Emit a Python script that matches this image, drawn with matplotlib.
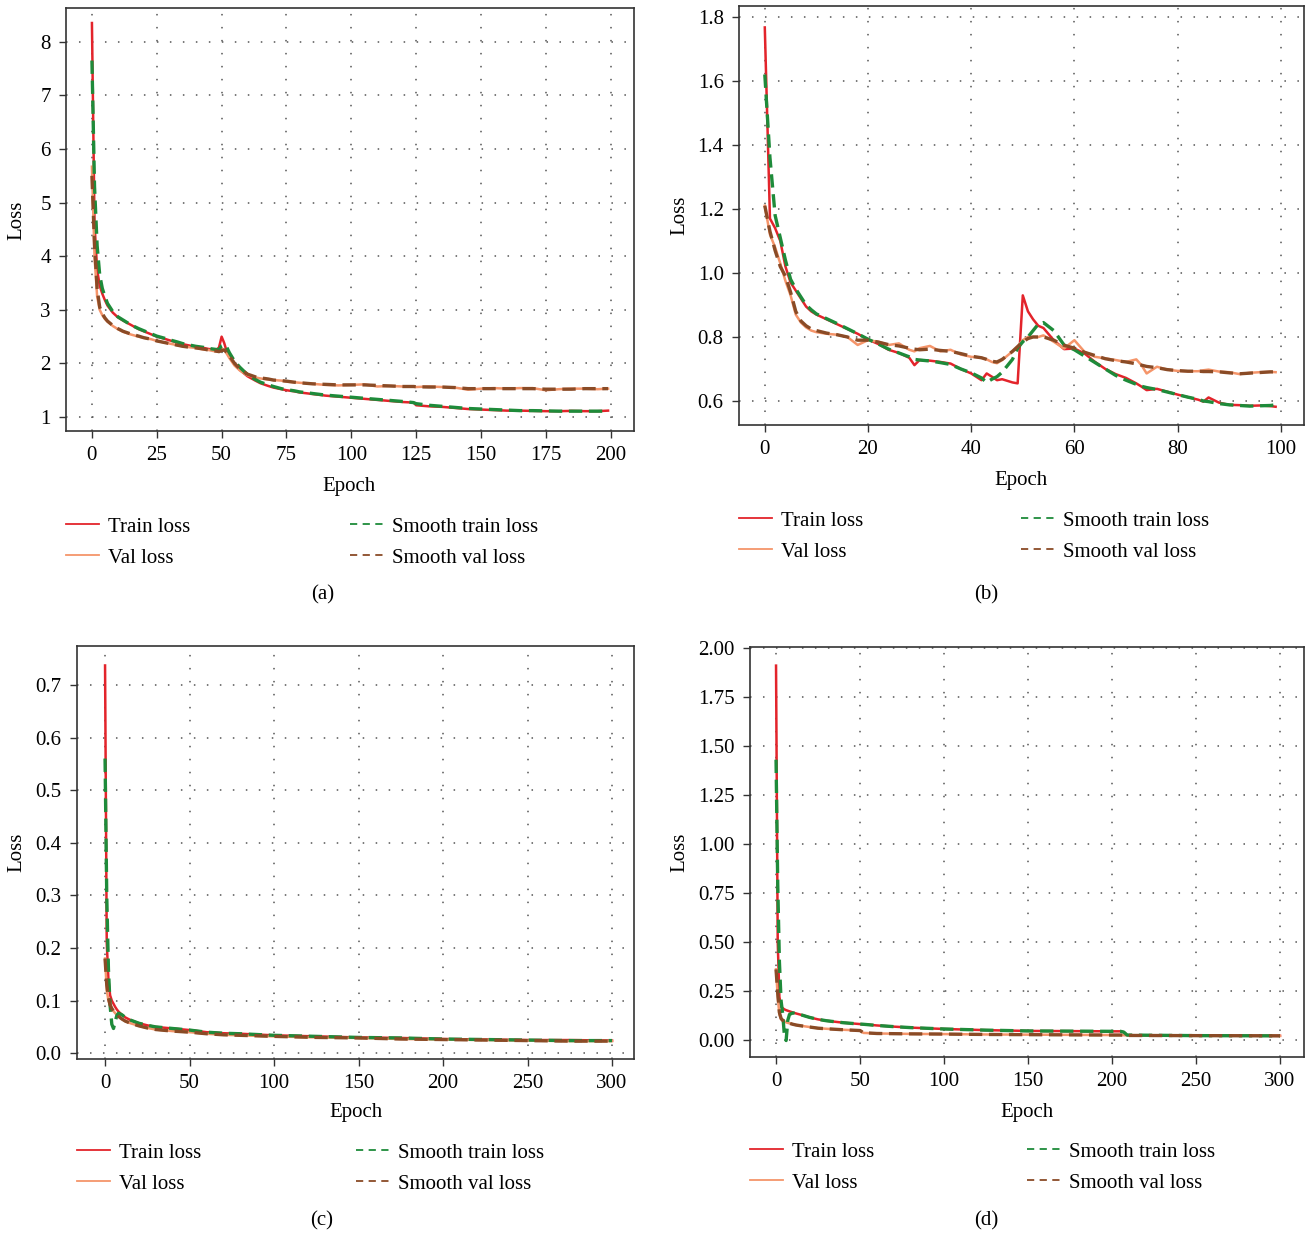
import matplotlib
matplotlib.use('Agg')
import matplotlib.pyplot as plt
from matplotlib.lines import Line2D

plt.rcParams['font.family'] = ['Liberation Serif', 'DejaVu Serif']

W, H = 1308, 1236

# ---- panel (a) ----
ep_a = [0, 1, 2, 3, 4, 5, 6,
        8, 10, 12, 15, 18, 20, 23, 25, 28, 30, 33, 35, 38, 40, 43, 45, 48, 49,
        50, 51, 52, 53, 55, 57, 60, 63, 65, 68, 70, 73, 75, 78, 80,
        85, 90, 95, 100, 105, 110, 115, 120, 124, 125,
        130, 135, 140, 145, 150, 155, 160, 165, 170, 175, 180, 185, 190, 195,
        199]
train_a = [8.35, 4.6, 3.75, 3.45, 3.3, 3.18, 3.08,
           2.95, 2.86, 2.80, 2.72, 2.64, 2.60, 2.54, 2.50, 2.46, 2.43, 2.39, 2.36, 2.33, 2.31, 2.29, 2.27, 2.25, 2.30,
           2.50, 2.38, 2.22, 2.12, 1.98, 1.88, 1.76, 1.68, 1.63, 1.58, 1.55, 1.52, 1.50, 1.48, 1.46,
           1.43, 1.40, 1.38, 1.36, 1.34, 1.32, 1.30, 1.28, 1.27, 1.22,
           1.20, 1.19, 1.17, 1.15, 1.14, 1.13, 1.12, 1.12, 1.115, 1.11, 1.11, 1.115, 1.11, 1.11,
           1.12]
val_a = [5.67, 4.0, 3.25, 3.0, 2.9, 2.83, 2.78,
         2.70, 2.64, 2.59, 2.54, 2.50, 2.48, 2.45, 2.42, 2.39, 2.37, 2.34, 2.32, 2.30, 2.29, 2.26, 2.25, 2.22, 2.22,
         2.28, 2.25, 2.18, 2.10, 1.96, 1.87, 1.78, 1.74, 1.72, 1.70, 1.69, 1.68, 1.66, 1.65, 1.64,
         1.62, 1.60, 1.59, 1.60, 1.61, 1.57, 1.58, 1.57, 1.57, 1.56,
         1.57, 1.56, 1.55, 1.51, 1.53, 1.54, 1.53, 1.54, 1.54, 1.50, 1.52, 1.53, 1.53, 1.52,
         1.53]
strain_a = [7.65, 5.3, 4.2, 3.65, 3.4, 3.25, 3.12,
            2.97, 2.87, 2.81, 2.72, 2.65, 2.61, 2.55, 2.51, 2.47, 2.44, 2.40, 2.37, 2.34, 2.32, 2.30, 2.28, 2.26, 2.26,
            2.33, 2.35, 2.30, 2.20, 2.04, 1.93, 1.79, 1.70, 1.65, 1.60, 1.57, 1.53, 1.51, 1.49, 1.47,
            1.44, 1.41, 1.39, 1.37, 1.35, 1.33, 1.31, 1.29, 1.27, 1.25,
            1.22, 1.20, 1.18, 1.16, 1.15, 1.14, 1.13, 1.12, 1.12, 1.115, 1.11, 1.11, 1.11, 1.11,
            1.11]
sval_a = [5.5, 4.2, 3.4, 3.05, 2.93, 2.85, 2.79,
          2.71, 2.65, 2.60, 2.55, 2.51, 2.48, 2.45, 2.42, 2.39, 2.37, 2.34, 2.32, 2.30, 2.29, 2.27, 2.25, 2.23, 2.22,
          2.24, 2.25, 2.21, 2.14, 2.00, 1.90, 1.80, 1.75, 1.73, 1.71, 1.69, 1.68, 1.67, 1.65, 1.64,
          1.62, 1.61, 1.60, 1.60, 1.60, 1.59, 1.58, 1.57, 1.57, 1.565,
          1.56, 1.56, 1.55, 1.53, 1.53, 1.53, 1.53, 1.53, 1.53, 1.52, 1.52, 1.52, 1.53, 1.53,
          1.53]

# ---- panel (b) ----
ep_b = [0, 1, 2, 3, 4, 5, 6, 7, 8, 9, 10,
        12, 14, 16, 18, 20, 22, 24, 26, 28,
        29,
        30, 32, 34, 36, 38, 40, 42,
        43, 44, 45, 46,
        48, 49, 50, 51, 52, 53, 54,
        56, 58, 60, 62, 64, 66, 68, 70, 72,
        73, 74,
        76, 78, 80, 82, 84,
        85, 86,
        88, 90, 92, 94, 96, 98, 99]
train_b = [1.767, 1.17, 1.14, 1.10, 1.02, 0.97, 0.945, 0.92, 0.895, 0.88, 0.87,
           0.855, 0.84, 0.825, 0.81, 0.792, 0.778, 0.76, 0.75, 0.735,
           0.712,
           0.728, 0.726, 0.722, 0.717, 0.70, 0.686, 0.665,
           0.686, 0.676, 0.665, 0.668,
           0.658, 0.655, 0.93, 0.88, 0.855, 0.835, 0.828,
           0.79, 0.762, 0.764, 0.748, 0.722, 0.70, 0.684, 0.672, 0.655,
           0.645, 0.634,
           0.638, 0.629, 0.62, 0.612, 0.604,
           0.598, 0.611,
           0.595, 0.588, 0.587, 0.585, 0.586, 0.584, 0.582]
val_b = [1.21, 1.12, 1.08, 1.03, 0.975, 0.93, 0.87, 0.845, 0.83, 0.82, 0.815,
         0.81, 0.807, 0.80, 0.775, 0.79, 0.785, 0.775, 0.78, 0.76,
         0.755,
         0.765, 0.772, 0.755, 0.76, 0.745, 0.738, 0.735,
         0.73, 0.722, 0.718, 0.728,
         0.755, 0.77, 0.79, 0.80, 0.80, 0.80, 0.805,
         0.785, 0.764, 0.79, 0.753, 0.738, 0.733, 0.728, 0.722, 0.73,
         0.712, 0.686,
         0.707, 0.698, 0.694, 0.693, 0.693,
         0.696, 0.698,
         0.692, 0.69, 0.684, 0.688, 0.69, 0.691, 0.69]
strain_b = [1.62, 1.36, 1.18, 1.11, 1.04, 0.98, 0.95, 0.925, 0.90, 0.885, 0.872,
            0.857, 0.842, 0.826, 0.81, 0.793, 0.778, 0.762, 0.75, 0.738,
            0.73,
            0.728, 0.725, 0.72, 0.714, 0.70, 0.688, 0.672,
            0.658, 0.668, 0.676, 0.69,
            0.73, 0.765, 0.785, 0.80, 0.82, 0.84, 0.845,
            0.82, 0.775, 0.76, 0.74, 0.72, 0.70, 0.68, 0.665, 0.652,
            0.646, 0.642,
            0.636, 0.628, 0.62, 0.612, 0.605,
            0.60, 0.598,
            0.592, 0.588, 0.586, 0.584, 0.585, 0.586, 0.588]
sval_b = [1.21, 1.13, 1.07, 1.02, 0.99, 0.94, 0.88, 0.85, 0.835, 0.825, 0.82,
          0.812, 0.807, 0.80, 0.79, 0.79, 0.784, 0.776, 0.772, 0.765,
          0.762,
          0.76, 0.762, 0.758, 0.755, 0.748, 0.74, 0.735,
          0.73, 0.724, 0.722, 0.73,
          0.755, 0.77, 0.785, 0.795, 0.80, 0.80, 0.80,
          0.79, 0.774, 0.765, 0.752, 0.742, 0.732, 0.726, 0.722, 0.716,
          0.712, 0.708,
          0.704, 0.698, 0.695, 0.693, 0.693,
          0.692, 0.692,
          0.691, 0.688, 0.685, 0.687, 0.689, 0.691, 0.691]

# ---- panel (c) ----
ep_c = [0, 1, 2, 3, 4, 5, 6, 7, 8, 10, 12, 15, 20, 25, 30, 40, 50, 60, 70, 80,
        100, 125, 150, 175, 200, 225, 250, 275, 300]
train_c = [0.737, 0.21, 0.14, 0.11, 0.10, 0.094, 0.088, 0.083, 0.079, 0.073, 0.068, 0.063, 0.057, 0.053,
           0.050, 0.047, 0.044, 0.040, 0.038, 0.037, 0.034, 0.032, 0.030, 0.029, 0.027, 0.026, 0.025, 0.025, 0.024]
val_c = [0.18, 0.12, 0.10, 0.09, 0.084, 0.08, 0.076, 0.073, 0.07, 0.065, 0.061, 0.057, 0.052, 0.048,
         0.045, 0.042, 0.040, 0.037, 0.035, 0.034, 0.032, 0.030, 0.029, 0.027, 0.026, 0.025, 0.024, 0.023, 0.023]
strain_c = [0.56, 0.30, 0.16, 0.09, 0.055, 0.047, 0.06, 0.072, 0.076, 0.073, 0.068, 0.063, 0.057, 0.053,
            0.050, 0.047, 0.044, 0.040, 0.038, 0.037, 0.034, 0.032, 0.030, 0.029, 0.027, 0.026, 0.025, 0.024, 0.024]
sval_c = [0.18, 0.13, 0.105, 0.092, 0.085, 0.08, 0.076, 0.073, 0.07, 0.065, 0.061, 0.057, 0.052, 0.048,
          0.045, 0.042, 0.040, 0.037, 0.035, 0.034, 0.032, 0.030, 0.029, 0.027, 0.026, 0.025, 0.024, 0.023, 0.023]

# ---- panel (d) ----
ep_d = [0, 1, 2, 3, 4, 5, 6, 7, 8, 10, 12, 15, 20, 25, 30, 40, 50, 52, 60, 70, 80,
        100, 125, 150, 175, 200, 205, 207, 209, 250, 300]
train_d = [1.91, 0.50, 0.22, 0.17, 0.162, 0.156, 0.152, 0.149, 0.146, 0.14, 0.135, 0.128, 0.115, 0.105, 0.098,
           0.088, 0.081, 0.080, 0.074, 0.068, 0.063, 0.056, 0.050, 0.046, 0.045, 0.044, 0.044, 0.040, 0.024, 0.022, 0.021]
val_d = [0.36, 0.22, 0.13, 0.105, 0.10, 0.095, 0.09, 0.087, 0.085, 0.08, 0.076, 0.072, 0.066, 0.06, 0.057,
         0.052, 0.048, 0.036, 0.033, 0.032, 0.031, 0.030, 0.028, 0.027, 0.026, 0.025, 0.025, 0.024, 0.023, 0.022, 0.021]
strain_d = [1.43, 0.80, 0.40, 0.20, 0.13, 0.02, -0.003, 0.10, 0.13, 0.138, 0.134, 0.128, 0.115, 0.105, 0.098,
            0.088, 0.081, 0.080, 0.074, 0.068, 0.063, 0.056, 0.050, 0.046, 0.045, 0.044, 0.044, 0.040, 0.025, 0.022, 0.021]
sval_d = [0.36, 0.24, 0.14, 0.11, 0.10, 0.095, 0.09, 0.087, 0.085, 0.08, 0.076, 0.072, 0.066, 0.06, 0.057,
          0.052, 0.048, 0.037, 0.033, 0.032, 0.031, 0.030, 0.028, 0.027, 0.026, 0.025, 0.025, 0.024, 0.023, 0.022, 0.021]

labels = ['Train loss', 'Val loss', 'Smooth train loss', 'Smooth val loss']
c_train = '#e3242b'
c_val = '#f5956a'
c_strain = '#1e8b3a'
c_sval = '#8a4b26'
FS = 15

fig = plt.figure(figsize=(W / 100, H / 100), dpi=100)


def fx(px):
    return px / W


def fy(py):
    return 1 - py / H


def draw_panel(box, ep, tr, va, st, sv, xlim, ylim, xticks, yticks,
               leg_top, col2_x, loss_xy, epoch_xy, cap_xy, cap):
    l, t, r, b = box
    ax = fig.add_axes([fx(l), fy(b), fx(r - l), (b - t) / H])
    ax.plot(ep, tr, color=c_train, lw=1.8)
    ax.plot(ep, va, color=c_val, lw=1.8)
    ax.plot(ep, st, color=c_strain, lw=2.4, ls=(0, (4, 2)))
    ax.plot(ep, sv, color=c_sval, lw=2.4, ls=(0, (4, 2)))

    ax.set_xlim(xlim)
    ax.set_ylim(ylim)
    ax.set_xticks(xticks)
    ax.set_yticks(yticks)
    ax.grid(True, ls=(0, (1, 7.5)), color='#555555', lw=1.1)
    ax.tick_params(labelsize=FS, length=5, width=1, color='#333333', pad=6)
    for s in ax.spines.values():
        s.set_color('#333333')
        s.set_linewidth(1.2)

    ax.set_ylabel('Loss', fontsize=FS, va='center', ha='center')
    ax.yaxis.set_label_coords(fx(loss_xy[0]), fy(loss_xy[1]), transform=fig.transFigure)
    ax.set_xlabel('Epoch', fontsize=FS, va='center', ha='center')
    ax.xaxis.set_label_coords(fx(epoch_xy[0]), fy(epoch_xy[1]), transform=fig.transFigure)

    # legend: two columns, placed below the axes
    h = [Line2D([], [], color=c_train, lw=1.3),
         Line2D([], [], color=c_val, lw=1.3),
         Line2D([], [], color=c_strain, lw=1.3, ls=(0, (4, 3))),
         Line2D([], [], color=c_sval, lw=1.3, ls=(0, (4, 3)))]
    kw = dict(loc='upper left', bbox_transform=fig.transFigure, frameon=False,
              fontsize=FS, handlelength=1.6, handletextpad=0.4,
              borderpad=0, borderaxespad=0, labelspacing=0.55)
    leg1 = ax.legend(h[:2], labels[:2], bbox_to_anchor=(fx(l), fy(leg_top)), **kw)
    ax.add_artist(leg1)
    ax.legend(h[2:], labels[2:], bbox_to_anchor=(fx(col2_x), fy(leg_top)), **kw)

    fig.text(fx(cap_xy[0]), fy(cap_xy[1]), cap, fontsize=FS, ha='center', va='center')
    return ax


draw_panel((66, 8, 634, 431), ep_a, train_a, val_a, strain_a, sval_a,
           (-10, 209), (0.74, 8.63), range(0, 201, 25), range(1, 9),
           517, 350, (17, 220), (349, 487), (323, 595), '(a)')
draw_panel((739, 6, 1304, 425), ep_b, train_b, val_b, strain_b, sval_b,
           (-5, 104.5), (0.525, 1.834), range(0, 101, 20), [0.6, 0.8, 1.0, 1.2, 1.4, 1.6, 1.8],
           511, 1021, (680, 215), (1021, 481), (986, 595), '(b)')
draw_panel((77, 646, 634, 1059), ep_c, train_c, val_c, strain_c, sval_c,
           (-16.6, 313), (-0.011, 0.774), range(0, 301, 50), [0.0, 0.1, 0.2, 0.3, 0.4, 0.5, 0.6, 0.7],
           1143, 356, (17, 852), (356, 1113), (322, 1221), '(c)')
draw_panel((750, 647, 1304, 1057), ep_d, train_d, val_d, strain_d, sval_d,
           (-15.5, 314.3), (-0.087, 2.005), range(0, 301, 50),
           [0.0, 0.25, 0.5, 0.75, 1.0, 1.25, 1.5, 1.75, 2.0],
           1142, 1027, (680, 852), (1027, 1112), (986, 1221), '(d)')

fig.savefig('out.png', dpi=100)
